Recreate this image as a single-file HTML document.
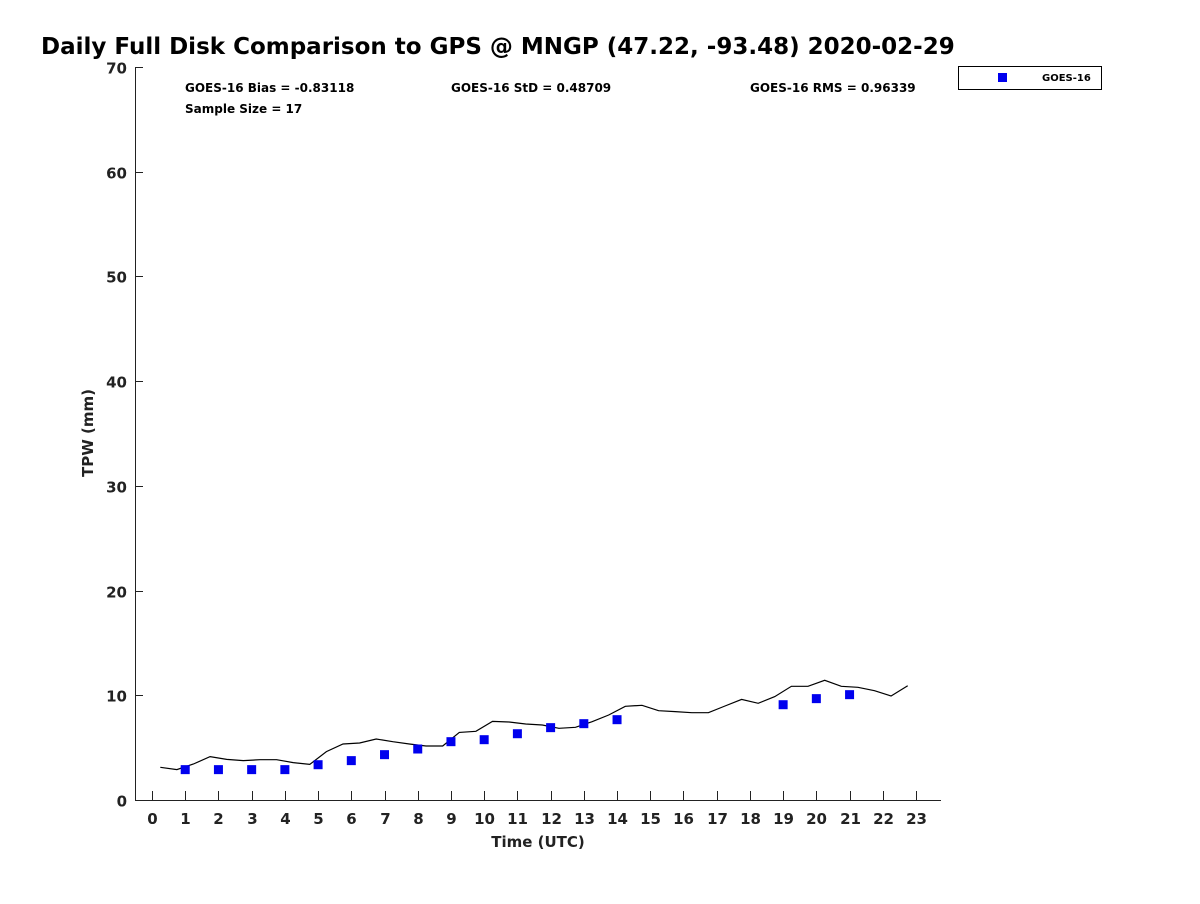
<!DOCTYPE html>
<html><head><meta charset="utf-8"><style>
body{margin:0;background:#fff;width:1200px;height:900px;overflow:hidden;font-family:"DejaVu Sans","Liberation Sans",sans-serif;}
svg text{font-family:"DejaVu Sans","Liberation Sans",sans-serif;font-weight:bold;}
</style></head><body>
<svg id="chart" width="1200" height="900" xmlns="http://www.w3.org/2000/svg">
<text x="41" y="54" font-size="23" fill="#000">Daily Full Disk Comparison to GPS @ MNGP (47.22, -93.48) 2020-02-29</text>
<text x="185" y="92" font-size="12" fill="#000">GOES-16 Bias = -0.83118</text>
<text x="185" y="113" font-size="12" fill="#000">Sample Size = 17</text>
<text x="451" y="92" font-size="12" fill="#000">GOES-16 StD = 0.48709</text>
<text x="750" y="92" font-size="12" fill="#000">GOES-16 RMS = 0.96339</text>
<g>
<rect x="958.5" y="66.5" width="143" height="23" fill="#fff" stroke="#000" stroke-width="1"/>
<rect x="998" y="73" width="9" height="9" fill="#0000ee"/>
<text x="1042" y="81" font-size="10" fill="#000">GOES-16</text>
</g>
<text transform="translate(93,433) rotate(-90)" text-anchor="middle" font-size="15" fill="#222">TPW (mm)</text>
<text x="538" y="847" text-anchor="middle" font-size="15" fill="#222">Time (UTC)</text>
<g id="axes"></g>
<g id="marks"></g>
</svg>
<script>
const xTicks=[0,1,2,3,4,5,6,7,8,9,10,11,12,13,14,15,16,17,18,19,20,21,22,23];
const yTicks=[0,10,20,30,40,50,60,70];
const gpsTimes=[0.25,0.75,1.25,1.75,2.25,2.75,3.25,3.75,4.25,4.75,5.25,5.75,6.25,6.75,7.25,7.75,8.25,8.75,9.25,9.75,10.25,10.75,11.25,11.75,12.25,12.75,13.25,13.75,14.25,14.75,15.25,15.75,16.25,16.75,17.25,17.75,18.25,18.75,19.25,19.75,20.25,20.75,21.25,21.75,22.25,22.75];
const gpsValues=[3.12,2.9,3.44,4.14,3.88,3.76,3.85,3.85,3.57,3.4,4.62,5.35,5.44,5.83,5.57,5.35,5.16,5.16,6.46,6.56,7.51,7.45,7.26,7.16,6.85,6.94,7.48,8.12,8.95,9.04,8.53,8.44,8.34,8.34,8.98,9.61,9.23,9.87,10.86,10.86,11.43,10.86,10.76,10.44,9.93,10.92];
const goesTimes=[1,2,3,4,5,6,7,8,9,10,11,12,13,14,19,20,21];
const goesValues=[2.9,2.9,2.9,2.9,3.37,3.76,4.33,4.87,5.57,5.76,6.33,6.91,7.29,7.67,9.1,9.68,10.06];
const NS="http://www.w3.org/2000/svg";
const X=h=>152+h*(916-152)/23;
const Y=v=>800-v*(800-67)/70;
function mk(tag,attrs,parent){const e=document.createElementNS(NS,tag);for(const k in attrs)e.setAttribute(k,attrs[k]);parent.appendChild(e);return e;}
const axes=document.getElementById('axes'),marks=document.getElementById('marks');
let l=mk('path',{d:'M135.5 67 V800.5 H941',fill:'none',stroke:'#222','stroke-width':1},axes);


xTicks.forEach(t=>{
 const x=Math.round(X(t))+0.5;
 const tk=mk('line',{x1:x,x2:x,y1:800,y2:791,stroke:'#222'},axes);
 
 
 const tx=mk('text',{x:x,y:824,'text-anchor':'middle','font-size':15,fill:'#222'},axes);
 tx.textContent=t;
 
 
});
yTicks.forEach(t=>{
 const y=Math.round(Y(t))+0.5;
 const tk=mk('line',{x1:135,x2:143,y1:y,y2:y,stroke:'#222'},axes);
 
 
 const tx=mk('text',{x:127,y:y+6,'text-anchor':'end','font-size':15,fill:'#222'},axes);
 tx.textContent=t;
 
 
});
const line=mk('polyline',{points:gpsTimes.map((t,i)=>X(t).toFixed(1)+','+Y(gpsValues[i]).toFixed(1)).join(' '),fill:'none',stroke:'#000','stroke-width':1.2},marks);


goesTimes.forEach((t,i)=>{
 const r=mk('rect',{x:X(t)-4.5,y:Y(goesValues[i])-4.5,width:9,height:9,fill:'#0000ee'},marks);
 
 
});
</script>
</body></html>
